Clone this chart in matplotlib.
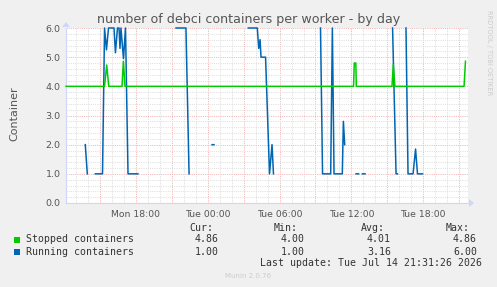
import numpy as np
import matplotlib
matplotlib.use("Agg")
import matplotlib.pyplot as plt
from matplotlib.patches import Rectangle

# ---- data (time in hours since Mon 00:00) ----
stopped_t = [12.16, 15.38, 15.56, 15.73, 16.84, 16.95, 17.09, 36.18, 36.24, 36.37, 36.41,
             39.39, 39.50, 39.63, 45.41, 45.53]
stopped_v = [4.0, 4.0, 4.73, 4.0, 4.0, 4.86, 4.0, 4.0, 4.8, 4.8, 4.0,
             4.0, 4.75, 4.0, 4.0, 4.86]

nan = float("nan")
running_t = [13.77, 13.94, 13.95,
             14.61, 15.21, 15.38, 15.54, 15.71, 16.17, 16.29, 16.46, 16.59, 16.67, 16.75,
             16.96, 17.13, 17.34, 18.17, 18.18,
             21.35, 22.18, 22.44, 22.45,
             24.36, 24.52, 24.53,
             27.39, 28.14, 28.26, 28.37, 28.45, 28.83, 29.16, 29.37, 29.49, 29.50,
             33.42, 33.59, 34.27, 34.41, 34.55, 35.24, 35.33, 35.44, 35.45,
             36.39, 36.60, 36.61,
             36.92, 37.14, 37.15,
             39.44, 39.73, 39.85, 39.86,
             40.56, 40.73, 41.15, 41.36, 41.52, 41.94]
running_v = [2.0, 1.0, nan,
             1.0, 1.0, 6.0, 5.25, 6.0, 6.0, 5.15, 6.0, 6.0, 5.3, 6.0,
             4.95, 6.0, 1.0, 1.0, nan,
             6.0, 6.0, 1.0, nan,
             2.0, 2.0, nan,
             6.0, 6.0, 5.3, 5.6, 5.0, 5.0, 1.0, 2.0, 1.0, nan,
             6.0, 1.0, 1.0, 6.0, 1.0, 1.0, 2.8, 2.0, nan,
             1.0, 1.0, nan,
             1.0, 1.0, nan,
             6.0, 1.0, 1.0, nan,
             6.0, 1.0, 1.0, 1.85, 1.0, 1.0]

xtick_hours = [18, 24, 30, 36, 42]
xtick_labels = ["Mon 18:00", "Tue 00:00", "Tue 06:00", "Tue 12:00", "Tue 18:00"]
ytick_vals = [0, 1, 2, 3, 4, 5, 6]
ytick_labels = ["0.0", "1.0", "2.0", "3.0", "4.0", "5.0", "6.0"]

legend_names = ["Stopped containers", "Running containers"]
legend_cur = ["4.86", "1.00"]
legend_min = ["4.00", "1.00"]
legend_avg = ["4.01", "3.16"]
legend_max = ["4.86", "6.00"]

GREEN = "#00CC00"
BLUE = "#0066B3"
BG = "#F0F0F0"

W, H = 497, 287
fig = plt.figure(figsize=(W / 100, H / 100), dpi=100, facecolor=BG)

x0, x1, ytop, ybot = 66, 468, 28, 203
ax = fig.add_axes([x0 / W, (H - ybot) / H, (x1 - x0) / W, (ybot - ytop) / H])
ax.set_facecolor("white")
ax.set_xlim(12.16, 45.74)
ax.set_ylim(0, 6)

# grid
MAJ = "#F2B4B4"
MIN = "#DEDEDE"
for h in np.arange(13, 46, 1):
    col = MAJ if h % 3 == 0 else MIN
    ax.axvline(h, color=col, lw=0.72, ls=(0, (1, 1.2)), zorder=1)
for v in np.arange(0.2, 6.01, 0.2):
    major = abs(v - round(v)) < 1e-6
    col = MAJ if major else MIN
    ax.axhline(v, color=col, lw=0.72, ls=(0, (1, 1.2)), zorder=1)

ax.plot(running_t, running_v, color=BLUE, lw=1.1, zorder=3, clip_on=False)
ax.plot(stopped_t, stopped_v, color=GREEN, lw=1.1, zorder=4, clip_on=False)

for s in ax.spines.values():
    s.set_visible(False)
ax.spines["left"].set_visible(True)
ax.spines["bottom"].set_visible(True)
ax.spines["left"].set_color("#CFD6F8")
ax.spines["bottom"].set_color("#CFD6F8")
ax.spines["left"].set_linewidth(0.8)
ax.spines["bottom"].set_linewidth(0.8)

ax.set_xticks(xtick_hours)
ax.set_xticklabels(xtick_labels, fontsize=6.7, color="#555555", family="DejaVu Sans")
ax.set_yticks(ytick_vals)
ax.set_yticklabels(ytick_labels, fontsize=6.8, color="#555555", family="DejaVu Sans")
ax.tick_params(axis="both", length=0, pad=4)
ax.tick_params(axis="x", pad=5)

# axis arrows
fig.patches.append(matplotlib.patches.Polygon(
    [[(x1 + 1) / W, (H - ybot + 4) / H], [(x1 + 1) / W, (H - ybot - 4) / H], [(x1 + 6) / W, (H - ybot) / H]],
    closed=True, transform=fig.transFigure, facecolor="#CFD6F8", edgecolor="none"))
fig.patches.append(matplotlib.patches.Polygon(
    [[(x0 - 4) / W, (H - ytop + 1) / H], [(x0 + 4) / W, (H - ytop + 1) / H], [x0 / W, (H - ytop + 6) / H]],
    closed=True, transform=fig.transFigure, facecolor="#CFD6F8", edgecolor="none"))

# title & labels
fig.text(249 / W, 1 - 19 / H, "number of debci containers per worker - by day",
         ha="center", va="center", fontsize=9.1, color="#555555", family="DejaVu Sans")
fig.text(14 / W, 1 - 114 / H, "Container", rotation=90, ha="center", va="center",
         fontsize=8, color="#555555", family="DejaVu Sans")
fig.text(489 / W, 1 - 53 / H, "RRDTOOL / TOBI OETIKER", rotation=270, ha="center", va="center",
         fontsize=4.8, color="#CCCCCC", family="DejaVu Sans")

# legend
mono = dict(family="DejaVu Sans Mono", fontsize=7.1, color="#333333")
def fy(y):
    return 1 - y / H
fig.text(213 / W, fy(228), "Cur:", ha="right", va="center", **mono)
fig.text(298 / W, fy(228), "Min:", ha="right", va="center", **mono)
fig.text(385 / W, fy(228), "Avg:", ha="right", va="center", **mono)
fig.text(470 / W, fy(228), "Max:", ha="right", va="center", **mono)
rows_y = [239.5, 251.7]
colors = [GREEN, BLUE]
for i in range(2):
    y = rows_y[i]
    fig.patches.append(Rectangle((14 / W, fy(y + 3)), 6 / W, 6 / H, transform=fig.transFigure,
                                 facecolor=colors[i], edgecolor="none"))
    fig.text(26.5 / W, fy(y), legend_names[i], ha="left", va="center", **mono)
    fig.text(219 / W, fy(y), legend_cur[i], ha="right", va="center", **mono)
    fig.text(305 / W, fy(y), legend_min[i], ha="right", va="center", **mono)
    fig.text(391 / W, fy(y), legend_avg[i], ha="right", va="center", **mono)
    fig.text(477 / W, fy(y), legend_max[i], ha="right", va="center", **mono)
fig.text(482.5 / W, fy(263.5), "Last update: Tue Jul 14 21:31:26 2026", ha="right", va="center", **mono)
fig.text(248 / W, fy(276), "Munin 2.0.76", ha="center", va="center",
         family="DejaVu Sans", fontsize=5, color="#CCCCCC")

fig.savefig("out.png", dpi=100, facecolor=BG)
